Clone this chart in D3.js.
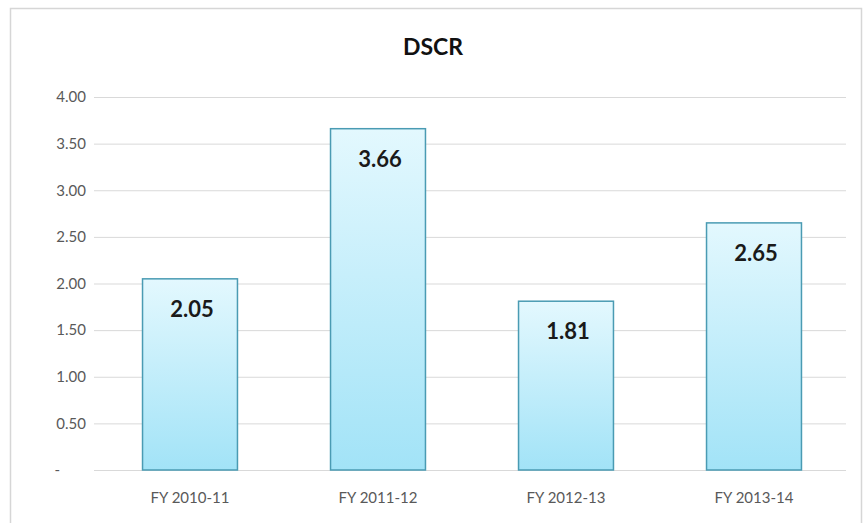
<!DOCTYPE html>
<html><head><meta charset="utf-8">
<script src="https://cdn.jsdelivr.net/npm/d3@7"></script>
<style>body{margin:0;background:#fff;}svg{display:block;}</style>
</head><body>
<script>
const categories = ["FY 2010-11","FY 2011-12","FY 2012-13","FY 2013-14"];
const values = [2.05, 3.66, 1.81, 2.65];
const tickValues = [0,0.5,1,1.5,2,2.5,3,3.5,4];
const tickLabels = ["-","0.50","1.00","1.50","2.00","2.50","3.00","3.50","4.00"];
const title = "DSCR";

const W=865,H=523;
const svg=d3.select("body").append("svg").attr("width",W).attr("height",H);
const defs=svg.append("defs");
const g=defs.append("linearGradient").attr("id","bg").attr("x1",0).attr("x2",0).attr("y1",0).attr("y2",1);
g.append("stop").attr("offset","0%").attr("stop-color","#e3f8fe");
g.append("stop").attr("offset","100%").attr("stop-color","#a2e3f7");

svg.append("rect").attr("x",10.5).attr("y",8.5).attr("width",851).attr("height",520).attr("fill","#fff").attr("stroke","#d6d6d6").attr("stroke-width",1.5);

const mLeft=94,mRight=846,mTop=97,mBottom=470;
const x=d3.scaleBand().domain(categories).range([mLeft+2,mRight+2]).paddingInner(0.495).paddingOuter(0.2475);
const y=d3.scaleLinear().domain([0,4]).range([mBottom,mTop]);

svg.append("text").attr("x",433).attr("y",55).attr("text-anchor","middle")
 .attr("font-family","Lato, 'Open Sans', sans-serif").attr("font-weight","bold").attr("font-size",23).attr("fill","#111").text(title);

const gy=svg.append("g").attr("transform",`translate(${mLeft},0)`)
 .call(d3.axisLeft(y).tickValues(tickValues).tickSize(-(mRight-mLeft)).tickPadding(8).tickFormat((d,i)=>tickLabels[i]));
gy.select(".domain").remove();
gy.selectAll(".tick line").attr("stroke","#d9d9d9").attr("stroke-width",1);
gy.selectAll(".tick text").attr("font-family","Lato, 'Open Sans', sans-serif").attr("font-size",15).attr("fill","#595959")
 .attr("dx",(d,i)=>tickLabels[i]==="-"?-26:0);

svg.selectAll("rect.bar").data(values).enter().append("rect").attr("class","bar")
 .attr("x",(d,i)=>x(categories[i])).attr("y",d=>y(d)).attr("width",x.bandwidth()).attr("height",d=>mBottom-y(d))
 .attr("fill","url(#bg)").attr("stroke","#4a9bb3").attr("stroke-width",1.5);

svg.selectAll("text.lbl").data(values).enter().append("text").attr("class","lbl")
 .attr("x",(d,i)=>x(categories[i])+x.bandwidth()/2+2).attr("y",d=>y(d)+38)
 .attr("text-anchor","middle").attr("font-family","Lato, 'Open Sans', sans-serif").attr("font-weight","bold").attr("font-size",22).attr("fill","#1a1a1a")
 .text(d=>d.toFixed(2));

const gx=svg.append("g").attr("transform",`translate(0,${mBottom})`).call(d3.axisBottom(x).tickSize(0).tickPadding(22));
gx.select(".domain").remove();
gx.selectAll(".tick text").attr("font-family","Lato, 'Open Sans', sans-serif").attr("font-size",15).attr("fill","#595959");
</script>
</body></html>
